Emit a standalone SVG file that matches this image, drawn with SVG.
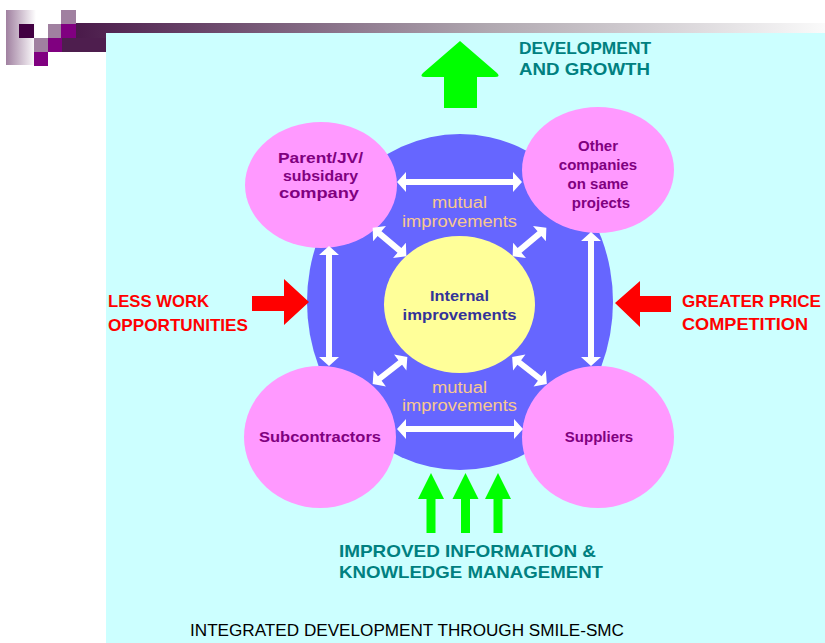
<svg xmlns="http://www.w3.org/2000/svg" xmlns:xlink="http://www.w3.org/1999/xlink" width="825" height="643" viewBox="0 0 825 643">
<defs>
<linearGradient id="gFade" x1="0" y1="0" x2="1" y2="0"><stop offset="0" stop-color="#a080a0"/><stop offset="1" stop-color="#ffffff"/></linearGradient>
<linearGradient id="gBar" x1="0" y1="0" x2="1" y2="0"><stop offset="0" stop-color="#4a1a4a"/><stop offset="0.55" stop-color="#b0a8b0"/><stop offset="1" stop-color="#fafafa"/></linearGradient>
<path id="dbl" d="M-22,0 L-13,-10 L-13,-3 L13,-3 L13,-10 L22,0 L13,10 L13,3 L-13,3 L-13,10 Z"/>
<style>
.node{font-family:"Liberation Sans",Arial,sans-serif;font-weight:bold;font-size:15px;fill:#800080;text-anchor:middle}
.mut{font-family:"Liberation Sans",Arial,sans-serif;font-size:16px;fill:#f8c890;text-anchor:middle}
.int{font-family:"Liberation Sans",Arial,sans-serif;font-weight:bold;font-size:15px;fill:#333399;text-anchor:middle}
.teal{font-family:"Liberation Sans",Arial,sans-serif;font-weight:bold;font-size:17px;fill:#008080}
.red{font-family:"Liberation Sans",Arial,sans-serif;font-weight:bold;font-size:17px;fill:#ff0000}
.title{font-family:"Liberation Sans",Arial,sans-serif;font-size:16px;fill:#000000}
.w{fill:#ffffff}
.pink{fill:#ff99ff}
</style>
</defs>
<rect width="825" height="643" fill="#ffffff"/>
<g id="decoration">
<rect x="6" y="10" width="30" height="55" fill="url(#gFade)"/>
<rect x="76" y="23" width="749" height="15" fill="url(#gBar)"/>
<rect x="62" y="38" width="44" height="14" fill="#4e1e4e"/>
<rect x="19" y="24" width="15" height="14" fill="#420042"/>
<rect x="48" y="24" width="14" height="14" fill="#a080a0"/>
<rect x="61" y="10" width="15" height="14" fill="#a080a0"/>
<rect x="61" y="24" width="15" height="14" fill="#800080"/>
<rect x="34" y="38" width="14" height="14" fill="#a080a0"/>
<rect x="48" y="38" width="14" height="14" fill="#800080"/>
<rect x="34" y="52" width="14" height="14" fill="#800080"/>
<rect x="106" y="33" width="719" height="610" fill="#ccffff"/>
</g>
<g id="core">
<ellipse cx="460" cy="302" rx="153" ry="168" fill="#6666ff"/>
</g>
<g id="internal">
<ellipse cx="459.5" cy="304.5" rx="75.5" ry="68.5" fill="#ffff99"/>
<text class="int" x="459.5" y="301" textLength="59" lengthAdjust="spacingAndGlyphs">Internal</text>
<text class="int" x="459.5" y="320" textLength="114" lengthAdjust="spacingAndGlyphs">improvements</text>
</g>
<g id="parent">
<ellipse class="pink" cx="321" cy="185" rx="76" ry="63"/>
<text class="node" x="320.5" y="163" textLength="85" lengthAdjust="spacingAndGlyphs">Parent/JV/</text>
<text class="node" x="320.5" y="181" textLength="75" lengthAdjust="spacingAndGlyphs">subsidary</text>
<text class="node" x="319" y="198" textLength="80" lengthAdjust="spacingAndGlyphs">company</text>
</g>
<g id="other">
<ellipse class="pink" cx="598" cy="170" rx="76" ry="63"/>
<text class="node" x="598" y="151">Other</text>
<text class="node" x="598" y="170">companies</text>
<text class="node" x="598" y="189">on same</text>
<text class="node" x="601" y="208">projects</text>
</g>
<g id="subcontractors">
<ellipse class="pink" cx="320" cy="437" rx="76" ry="71"/>
<text class="node" x="320" y="442" textLength="122" lengthAdjust="spacingAndGlyphs">Subcontractors</text>
</g>
<g id="suppliers">
<ellipse class="pink" cx="598" cy="437" rx="76" ry="71"/>
<text class="node" x="599" y="442">Suppliers</text>
</g>
<g id="labels">
<text class="mut" x="459.5" y="208" textLength="55" lengthAdjust="spacingAndGlyphs">mutual</text>
<text class="mut" x="459.5" y="227" textLength="115" lengthAdjust="spacingAndGlyphs">improvements</text>
<text class="mut" x="459.5" y="393" textLength="55" lengthAdjust="spacingAndGlyphs">mutual</text>
<text class="mut" x="459.5" y="411" textLength="115" lengthAdjust="spacingAndGlyphs">improvements</text>
<text class="teal" x="519" y="54" textLength="132" lengthAdjust="spacingAndGlyphs">DEVELOPMENT</text>
<text class="teal" x="519" y="75" textLength="131" lengthAdjust="spacingAndGlyphs">AND GROWTH</text>
<text class="red" x="108" y="307" textLength="101" lengthAdjust="spacingAndGlyphs">LESS WORK</text>
<text class="red" x="108" y="331" textLength="140" lengthAdjust="spacingAndGlyphs">OPPORTUNITIES</text>
<text class="red" x="682" y="307" textLength="139" lengthAdjust="spacingAndGlyphs">GREATER PRICE</text>
<text class="red" x="682" y="330" textLength="126" lengthAdjust="spacingAndGlyphs">COMPETITION</text>
<text class="teal" x="339" y="557" textLength="257" lengthAdjust="spacingAndGlyphs">IMPROVED INFORMATION &amp;</text>
<text class="teal" x="339" y="578" textLength="264" lengthAdjust="spacingAndGlyphs">KNOWLEDGE MANAGEMENT</text>
<text class="title" x="190" y="636" textLength="434" lengthAdjust="spacingAndGlyphs">INTEGRATED DEVELOPMENT THROUGH SMILE-SMC</text>
</g>
<g id="connectors">
<path class="w" d="M397,182 L406,172 L406,179 L513,179 L513,172 L522,182 L513,192 L513,185 L406,185 L406,192 Z"/>
<path class="w" d="M397,429 L406,419 L406,426 L514,426 L514,419 L523,429 L514,439 L514,432 L406,432 L406,439 Z"/>
<path class="w" d="M329,246 L339,255 L332,255 L332,357 L339,357 L329,366 L319,357 L326,357 L326,255 L319,255 Z"/>
<path class="w" d="M591,232 L601,241 L594,241 L594,357 L601,357 L591,366 L581,357 L588,357 L588,241 L581,241 Z"/>
<use xlink:href="#dbl" href="#dbl" class="w" transform="translate(389.5,242) rotate(40)"/>
<use xlink:href="#dbl" href="#dbl" class="w" transform="translate(529.5,242) rotate(-40)"/>
<use xlink:href="#dbl" href="#dbl" class="w" transform="translate(390,370.5) rotate(-38)"/>
<use xlink:href="#dbl" href="#dbl" class="w" transform="translate(529.5,370.5) rotate(38)"/>
<path fill="#00ff00" d="M460,41 L497,73 Q501,77 495,77 L477,77 L477,108 L444,108 L444,77 L425,77 Q419,77 423,73 Z"/>
<path fill="#00ff00" d="M431,473 L444,499 L435.5,499 L435.5,533 L426.5,533 L426.5,499 L418,499 Z"/>
<path fill="#00ff00" d="M465.5,473 L478.5,499 L470,499 L470,533 L461,533 L461,499 L452.5,499 Z"/>
<path fill="#00ff00" d="M498,473 L511,499 L502.5,499 L502.5,533 L493.5,533 L493.5,499 L485,499 Z"/>
<path fill="#ff0000" d="M252,296 L284,296 L284,279 L309,302 L284,325 L284,311 L252,311 Z"/>
<path fill="#ff0000" d="M615,303 L640,281 L640,296 L671,296 L671,312 L640,312 L640,327 Z"/>
</g>
</svg>
